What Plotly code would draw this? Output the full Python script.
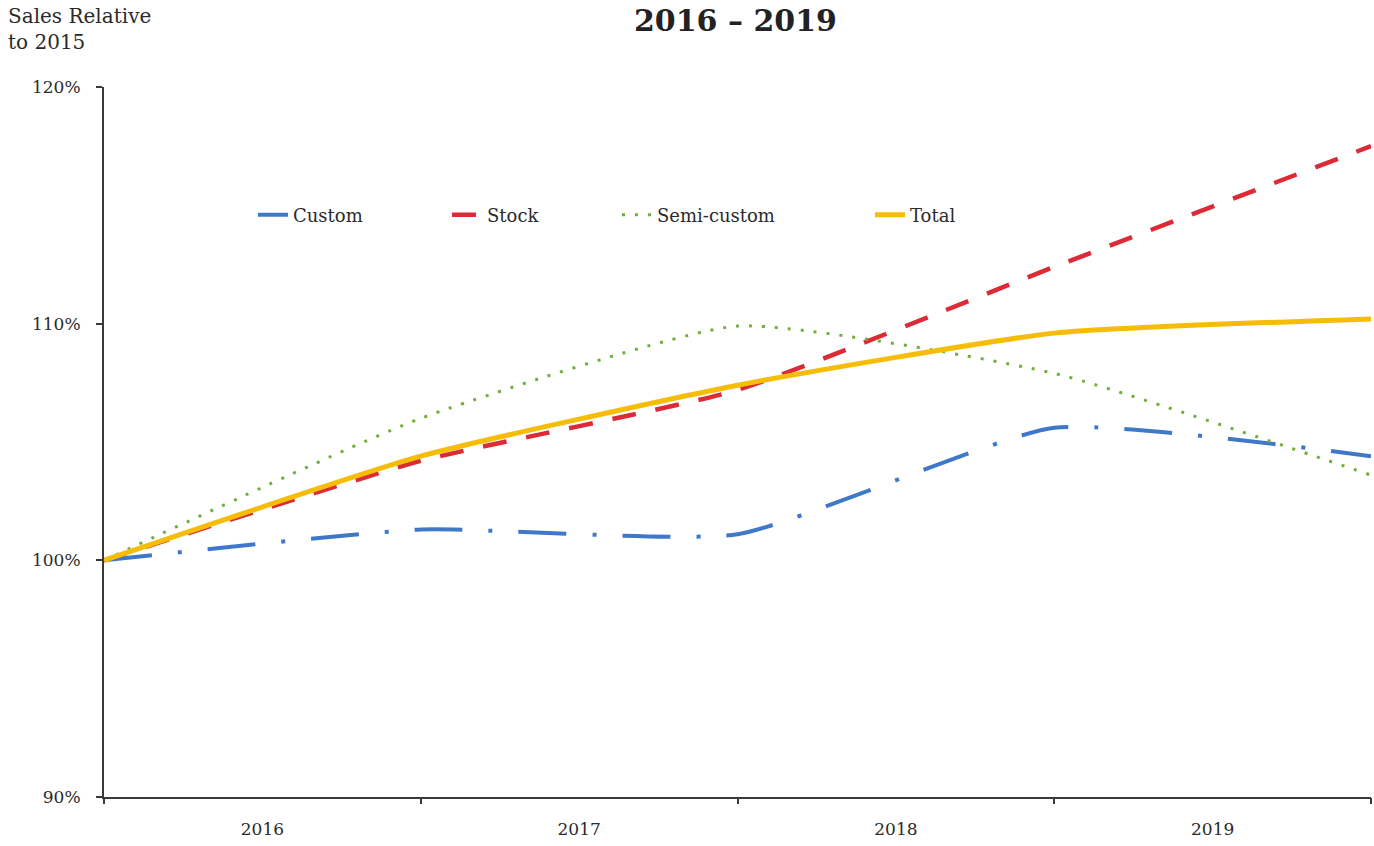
import plotly.graph_objects as go

# Sales index (2015 = 100%), sampled at year boundaries
x_points = [0, 1, 2, 3, 4]
year_labels = ["2016", "2017", "2018", "2019"]
year_centers = [0.5, 1.5, 2.5, 3.5]

custom = [100.0, 101.3, 101.1, 105.6, 104.4]
stock = [100.0, 104.2, 107.2, 112.4, 117.5]
semi_custom = [100.0, 106.0, 109.9, 107.9, 103.6]
total = [100.0, 104.4, 107.4, 109.6, 110.2]

y_ticks = [90, 100, 110, 120]
y_tick_labels = ["90%", "100%", "110%", "120%"]

FONT = "DejaVu Serif"
AXIS_COLOR = "#3a3a3a"
TEXT_COLOR = "#2b2b2b"

# plot area in pixels, used to place the legends and labels in paper units
L, R, T, B = 104, 3, 87, 49
W, H = 1374, 846
PW, PH = W - L - R, H - T - B


def px_x(px):
    return (px - L) / PW


def px_y(py):
    return 1 - (py - T) / PH


fig = go.Figure()

# name, values, colour, dash, width, legend id, pixel x of the legend text
series = [
    ("Custom", custom, "#3f78c8", "48px,26px,4px,26px", 4, "legend", 293),
    ("Stock", stock, "#dc2a36", "24px,20px", 4.5, "legend2", 487),
    ("Semi-custom", semi_custom, "#6fb03c", "3px,10px", 3, "legend3", 657),
    ("Total", total, "#f5bd07", "solid", 5, "legend4", 910),
]

legend_layout = {}
for name, vals, color, dash, width, leg, text_px in series:
    fig.add_trace(go.Scatter(
        x=x_points, y=vals, name=name, mode="lines", legend=leg,
        line=dict(color=color, dash=dash, width=width, shape="spline", smoothing=0.5),
        xaxis="x", yaxis="y",
    ))
    legend_layout[leg] = dict(
        orientation="h", x=px_x(text_px - 40), y=px_y(215),
        xanchor="left", yanchor="middle",
        font=dict(family=FONT, size=18, color=TEXT_COLOR),
        bgcolor="rgba(0,0,0,0)",
    )

# invisible trace carrying the boundary ticks on the overlay axis
fig.add_trace(go.Scatter(x=[0, 4], y=[None, None], xaxis="x2", yaxis="y",
                         showlegend=False, hoverinfo="skip"))

fig.update_layout(
    width=W, height=H,
    margin=dict(l=L, r=R, t=T, b=B),
    paper_bgcolor="white", plot_bgcolor="white",
    font=dict(family=FONT, color=TEXT_COLOR),
    showlegend=True,
    xaxis=dict(
        range=[0, 4], tickmode="array", tickvals=year_centers, ticktext=year_labels,
        ticks="", showgrid=False, zeroline=False, showline=True,
        linecolor=AXIS_COLOR, linewidth=2,
        tickfont=dict(family=FONT, size=17, color=TEXT_COLOR),
        ticklabelstandoff=16,
    ),
    xaxis2=dict(
        range=[0, 4], overlaying="x", side="bottom", tickmode="array",
        tickvals=x_points, showticklabels=False, ticks="outside", ticklen=6,
        tickwidth=2, tickcolor=AXIS_COLOR, showgrid=False, zeroline=False,
        showline=False,
    ),
    yaxis=dict(
        range=[90, 120], tickmode="array", tickvals=y_ticks, ticktext=y_tick_labels,
        ticks="outside", ticklen=6, tickwidth=2, tickcolor=AXIS_COLOR,
        showgrid=False, zeroline=False, showline=True,
        linecolor=AXIS_COLOR, linewidth=2,
        tickfont=dict(family=FONT, size=17, color=TEXT_COLOR),
        ticklabelstandoff=12,
    ),
    **legend_layout,
)

fig.add_annotation(
    text="Sales Relative<br>to 2015", xref="paper", yref="paper",
    x=px_x(6), y=px_y(2), xanchor="left", yanchor="top",
    align="left", showarrow=False,
    font=dict(family=FONT, size=20, color=TEXT_COLOR),
)

fig.add_annotation(
    text="<b>2016 – 2019</b>", xref="paper", yref="paper",
    x=px_x(735), y=px_y(1), xanchor="center", yanchor="top",
    showarrow=False,
    font=dict(family=FONT, size=30, color="#222222"),
)

fig.write_html("out.html")
